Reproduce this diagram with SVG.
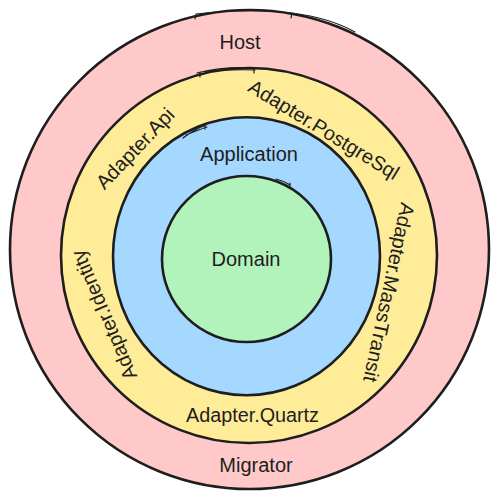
<svg xmlns="http://www.w3.org/2000/svg" width="497" height="500" viewBox="0 0 497 500">
<style>
.ring{stroke:#1e1e1e;stroke-width:2.6;stroke-linecap:round;stroke-linejoin:round}
.rough{fill:none;stroke:#1e1e1e;stroke-width:1.2;stroke-linecap:round}
.lbl{font-family:"Liberation Sans",Arial,Helvetica,sans-serif;font-size:20px;fill:#1e1e1e;text-anchor:middle}
</style>
<rect width="497" height="500" fill="#ffffff"/>
<g id="host">
<ellipse class="ring" cx="249.5" cy="249.5" rx="239.5" ry="239.5" fill="#ffc9c9"/>
<path class="rough" d="M196 14 Q250 8 292 13 M292 13 Q330 18 355 32 M196 14 L195 19 M292 13 L291 18"/>
<text class="lbl" x="240" y="49">Host</text>
<text class="lbl" x="256" y="472">Migrator</text>
</g>
<g id="adapters">
<ellipse class="ring" cx="249" cy="255.5" rx="188" ry="187.5" fill="#ffec99"/>
<path class="rough" d="M197 73 Q225 66 254 68 M200 72 Q230 69 255 70 M200 72 L200 77 M254 68 L254 73"/>
<text class="lbl" transform="translate(135,148.3) rotate(-46.4)" y="7">Adapter.Api</text>
<text class="lbl" transform="translate(324,129.5) rotate(31.5)" y="7">Adapter.PostgreSql</text>
<text class="lbl" transform="translate(389,292.5) rotate(102)" y="7">Adapter.MassTransit</text>
<text class="lbl" transform="translate(104,315) rotate(-113)" y="7">Adapter.Identity</text>
<text class="lbl" x="252.5" y="421.5" textLength="133" lengthAdjust="spacingAndGlyphs">Adapter.Quartz</text>
</g>
<g id="application">
<ellipse class="ring" cx="246.5" cy="256.3" rx="133.5" ry="139" fill="#a5d8ff"/>
<path class="rough" d="M183 138 Q195 129 206 125 M186 135 Q198 130 207 127 M205 125 L205 129"/>
<text class="lbl" x="249" y="161">Application</text>
</g>
<g id="domain">
<ellipse class="ring" cx="246.5" cy="259" rx="84.5" ry="83" fill="#b2f2bb"/>
<path class="rough" d="M276 179 Q284 181 290 185 M290 183 L290 188"/>
<text class="lbl" x="246" y="266">Domain</text>
</g>
<g id="connectors"></g>
</svg>
